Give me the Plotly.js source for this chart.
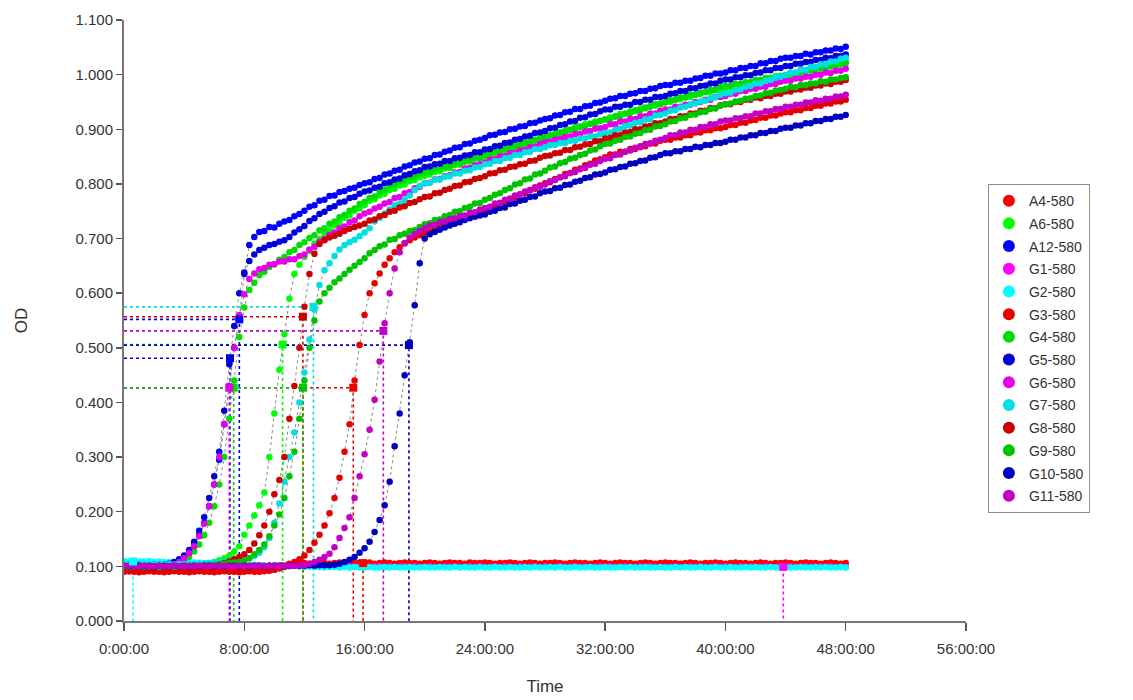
<!DOCTYPE html>
<html><head><meta charset="utf-8">
<script src="https://cdn.plot.ly/plotly-3.0.1.min.js"></script>
<style>html,body{margin:0;padding:0;background:#fff}#chart{width:1133px;height:700px}</style>
</head><body><div id="chart"></div>
<script>
// Sampling times (minutes)
const timeMinutes = [
0,20,40,60,80,100,120,140,160,180,200,220,
240,260,280,300,320,340,360,380,400,420,440,460,
480,500,520,540,560,580,600,620,640,660,680,700,
720,740,760,780,800,820,840,860,880,900,920,940,
960,980,1000,1020,1040,1060,1080,1100,1120,1140,1160,1180,
1200,1220,1240,1260,1280,1300,1320,1340,1360,1380,1400,1420,
1440,1460,1480,1500,1520,1540,1560,1580,1600,1620,1640,1660,
1680,1700,1720,1740,1760,1780,1800,1820,1840,1860,1880,1900,
1920,1940,1960,1980,2000,2020,2040,2060,2080,2100,2120,2140,
2160,2180,2200,2220,2240,2260,2280,2300,2320,2340,2360,2380,
2400,2420,2440,2460,2480,2500,2520,2540,2560,2580,2600,2620,
2640,2660,2680,2700,2720,2740,2760,2780,2800,2820,2840,2860,
2880];

const seriesNames = ['A4-580','A6-580','A12-580','G1-580','G2-580','G3-580','G4-580','G5-580','G6-580','G7-580','G8-580','G9-580','G10-580','G11-580'];

const odA4 = [
.092,.091,.093,.092,.091,.092,.093,.092,.091,.092,.092,.093,
.092,.091,.092,.093,.092,.091,.092,.092,.093,.092,.091,.092,
.092,.093,.092,.091,.092,.093,.094,.096,.099,.102,.104,.105,
.106,.105,.106,.107,.106,.105,.106,.107,.106,.105,.106,.107,
.106,.107,.105,.106,.107,.106,.105,.106,.107,.106,.106,.105,
.106,.107,.106,.105,.106,.107,.106,.106,.105,.107,.106,.106,
.107,.106,.105,.106,.106,.107,.106,.105,.106,.107,.106,.105,
.106,.106,.107,.106,.105,.106,.107,.106,.106,.105,.106,.107,
.106,.105,.106,.107,.106,.106,.105,.106,.107,.106,.105,.106,
.107,.106,.106,.105,.106,.107,.106,.105,.106,.106,.107,.106,
.105,.106,.107,.106,.106,.105,.106,.107,.106,.105,.106,.106,
.107,.106,.105,.106,.107,.106,.106,.105,.106,.107,.106,.105,
.106];

const odA6 = [
.101,.100,.101,.100,.100,.101,.100,.101,.100,.100,.101,.100,
.101,.102,.102,.103,.104,.106,.108,.111,.115,.120,.127,.137,
.158,.175,.193,.212,.235,.300,.380,.460,.525,.590,.635,.652,
.666,.677,.691,.699,.709,.715,.724,.729,.738,.742,.751,.755,
.761,.769,.772,.779,.782,.789,.791,.797,.799,.805,.807,.812,
.815,.817,.822,.823,.828,.829,.834,.835,.840,.841,.846,.847,
.850,.855,.856,.861,.862,.867,.867,.872,.873,.878,.879,.884,
.887,.888,.892,.893,.898,.899,.904,.904,.909,.910,.914,.915,
.918,.922,.923,.928,.928,.933,.933,.938,.938,.943,.943,.947,
.950,.950,.954,.955,.959,.959,.963,.964,.968,.968,.972,.972,
.974,.978,.978,.982,.982,.986,.986,.990,.990,.994,.994,.998,
1.000,.999,1.003,1.003,1.007,1.007,1.011,1.011,1.015,1.015,1.019,1.019,
1.023];

const odA12 = [
.103,.104,.103,.102,.103,.104,.103,.103,.104,.104,.106,.110,
.117,.126,.140,.158,.180,.210,.250,.295,.360,.430,.500,.555,
.635,.688,.703,.712,.714,.721,.720,.727,.731,.734,.741,.745,
.751,.758,.761,.769,.771,.778,.779,.785,.787,.791,.793,.798,
.801,.803,.809,.811,.817,.819,.824,.826,.832,.834,.839,.841,
.846,.847,.853,.854,.859,.861,.866,.867,.873,.874,.879,.881,
.884,.889,.890,.894,.895,.900,.901,.905,.906,.911,.912,.916,
.919,.920,.925,.926,.931,.932,.937,.937,.942,.943,.948,.949,
.952,.956,.957,.961,.961,.965,.966,.970,.970,.974,.975,.979,
.981,.981,.985,.985,.989,.989,.993,.994,.998,.998,1.002,1.002,
1.004,1.008,1.008,1.012,1.012,1.016,1.016,1.021,1.021,1.025,1.025,1.029,
1.031,1.031,1.034,1.034,1.038,1.037,1.041,1.041,1.044,1.044,1.048,1.047,
1.051];

const odG1 = [
.101,.100,.101,.100,.100,.101,.100,.101,.100,.101,.100,.100,
.100,.101,.100,.100,.101,.100,.101,.100,.100,.101,.100,.101,
.100,.100,.101,.100,.101,.100,.100,.101,.100,.100,.101,.100,
.101,.100,.100,.099,.100,.101,.100,.099,.100,.100,.099,.100,
.100,.099,.100,.100,.099,.100,.099,.100,.100,.099,.100,.099,
.099,.100,.099,.099,.100,.099,.100,.099,.099,.100,.099,.100,
.099,.099,.100,.099,.100,.099,.099,.100,.099,.099,.100,.099,
.100,.099,.099,.100,.099,.099,.100,.099,.100,.099,.099,.100,
.099,.100,.099,.099,.100,.099,.099,.100,.099,.100,.099,.099,
.099,.099,.100,.099,.099,.100,.099,.100,.099,.099,.100,.099,
.100,.099,.099,.100,.099,.100,.099,.099,.100,.099,.099,.100,
.099,.100,.099,.099,.100,.099,.099,.100,.099,.100,.099,.099,
.099];

const odG2 = [
.110,.109,.110,.109,.109,.110,.108,.109,.108,.108,.107,.108,
.107,.106,.107,.106,.105,.106,.105,.104,.105,.104,.103,.104,
.103,.102,.103,.102,.102,.101,.102,.101,.101,.100,.101,.100,
.099,.100,.099,.099,.098,.099,.099,.098,.099,.098,.099,.098,
.098,.099,.098,.098,.099,.098,.099,.098,.098,.099,.098,.098,
.099,.098,.098,.099,.098,.098,.099,.098,.099,.098,.098,.099,
.098,.098,.099,.098,.098,.099,.098,.098,.099,.098,.099,.098,
.098,.099,.098,.099,.098,.098,.099,.098,.098,.099,.098,.098,
.099,.098,.098,.099,.098,.099,.098,.098,.099,.098,.098,.099,
.098,.098,.099,.098,.099,.098,.098,.099,.098,.098,.099,.098,
.098,.099,.098,.098,.099,.098,.099,.098,.098,.099,.098,.098,
.099,.098,.098,.099,.098,.098,.099,.098,.099,.098,.098,.099,
.098];

const odG3 = [
.090,.091,.090,.089,.090,.091,.090,.090,.089,.090,.091,.090,
.090,.089,.090,.091,.090,.090,.089,.090,.091,.090,.090,.089,
.090,.091,.090,.090,.091,.092,.094,.097,.101,.105,.108,.113,
.120,.130,.143,.158,.175,.197,.225,.262,.310,.360,.440,.505,
.560,.600,.618,.636,.652,.664,.675,.684,.691,.697,.702,.706,
.711,.713,.718,.720,.725,.727,.732,.734,.739,.741,.746,.748,
.751,.757,.759,.765,.767,.773,.775,.781,.783,.789,.791,.797,
.801,.803,.809,.812,.818,.820,.826,.828,.834,.837,.843,.845,
.849,.854,.854,.859,.859,.864,.864,.869,.869,.874,.874,.879,
.881,.881,.885,.885,.889,.889,.894,.894,.898,.898,.902,.902,
.904,.908,.908,.912,.912,.916,.917,.921,.921,.925,.925,.929,
.931,.931,.935,.935,.939,.939,.943,.943,.947,.947,.951,.951,
.954];

const odG4 = [
.100,.101,.100,.100,.101,.100,.100,.101,.100,.100,.102,.105,
.110,.117,.127,.140,.157,.180,.210,.250,.300,.370,.440,.520,
.574,.606,.619,.633,.639,.648,.653,.661,.666,.675,.679,.688,
.693,.701,.706,.715,.719,.727,.731,.739,.743,.751,.755,.763,
.767,.774,.777,.785,.789,.797,.799,.805,.807,.812,.813,.818,
.821,.822,.826,.827,.832,.832,.837,.838,.842,.843,.848,.848,
.853,.854,.859,.859,.864,.865,.870,.870,.875,.876,.881,.881,
.884,.889,.889,.894,.895,.899,.900,.905,.905,.910,.911,.915,
.918,.919,.924,.924,.929,.930,.935,.935,.940,.941,.946,.946,
.949,.953,.954,.958,.958,.963,.963,.967,.968,.972,.972,.977,
.979,.979,.983,.983,.986,.986,.990,.990,.994,.993,.997,.997,
.999,1.003,1.002,1.006,1.006,1.009,1.009,1.013,1.012,1.016,1.016,1.019,
1.021];

const odG5 = [
.102,.103,.102,.103,.102,.102,.103,.102,.103,.105,.108,.113,
.120,.130,.145,.165,.190,.225,.265,.310,.385,.470,.540,.600,
.638,.659,.671,.679,.683,.688,.690,.694,.697,.703,.711,.717,
.723,.732,.737,.745,.749,.756,.759,.766,.768,.774,.776,.782,
.786,.788,.793,.795,.801,.803,.808,.810,.816,.818,.823,.825,
.831,.832,.836,.837,.842,.842,.847,.848,.852,.853,.858,.858,
.863,.864,.869,.870,.875,.876,.881,.882,.887,.888,.893,.894,
.897,.902,.903,.908,.909,.914,.915,.921,.922,.927,.928,.933,
.936,.936,.941,.941,.945,.945,.950,.950,.954,.954,.959,.959,
.961,.965,.966,.970,.970,.975,.975,.979,.980,.984,.984,.989,
.991,.991,.995,.995,.999,.999,1.003,1.004,1.008,1.008,1.012,1.012,
1.016,1.016,1.020,1.020,1.023,1.023,1.027,1.027,1.031,1.030,1.034,1.034,
1.037];

const odG6 = [
.101,.100,.101,.101,.100,.101,.101,.100,.101,.102,.104,.108,
.115,.124,.137,.155,.178,.210,.250,.300,.360,.430,.500,.560,
.598,.626,.636,.644,.646,.652,.653,.658,.658,.662,.662,.668,
.671,.680,.685,.694,.699,.707,.711,.719,.722,.730,.733,.741,
.746,.749,.755,.758,.764,.767,.774,.776,.783,.785,.792,.795,
.801,.802,.808,.809,.814,.816,.821,.822,.828,.829,.834,.836,
.839,.844,.845,.850,.851,.856,.857,.861,.862,.867,.868,.873,
.876,.877,.881,.882,.886,.887,.891,.892,.896,.897,.901,.902,
.904,.909,.909,.914,.914,.919,.919,.924,.924,.929,.929,.934,
.936,.936,.941,.941,.945,.945,.950,.950,.954,.954,.959,.959,
.961,.965,.965,.970,.970,.974,.974,.978,.978,.983,.983,.987,
.989,.989,.993,.993,.996,.996,1.000,1.000,1.004,1.003,1.007,1.007,
1.011];

const odG7 = [
.104,.103,.104,.103,.104,.103,.103,.104,.103,.104,.103,.104,
.104,.104,.105,.105,.106,.106,.107,.108,.109,.110,.112,.115,
.112,.115,.119,.125,.135,.152,.180,.215,.255,.300,.345,.400,
.455,.515,.570,.615,.642,.655,.668,.680,.688,.693,.698,.704,
.711,.719,.731,.738,.746,.753,.761,.764,.771,.779,.789,.796,
.801,.802,.807,.808,.813,.814,.819,.819,.824,.825,.830,.831,
.836,.837,.842,.842,.847,.848,.853,.853,.858,.859,.864,.864,
.867,.871,.871,.875,.875,.879,.879,.883,.883,.887,.887,.891,
.893,.894,.899,.901,.906,.907,.912,.913,.918,.919,.925,.926,
.929,.934,.935,.940,.941,.946,.947,.951,.952,.957,.958,.963,
.966,.967,.972,.973,.978,.979,.984,.984,.989,.990,.995,.996,
.999,1.004,1.004,1.009,1.009,1.014,1.014,1.019,1.019,1.024,1.024,1.029,
1.031];

const odG8 = [
.098,.097,.098,.098,.097,.098,.097,.098,.098,.097,.098,.098,
.098,.098,.099,.099,.100,.101,.102,.104,.106,.109,.113,.117,
.122,.130,.142,.157,.175,.200,.232,.258,.300,.370,.430,.500,
.575,.635,.672,.690,.697,.702,.705,.709,.714,.718,.721,.724,
.727,.733,.735,.741,.743,.749,.751,.757,.759,.765,.767,.772,
.776,.777,.783,.784,.789,.791,.796,.797,.803,.804,.809,.811,
.814,.819,.820,.825,.826,.831,.832,.836,.837,.842,.843,.848,
.851,.852,.856,.857,.862,.862,.867,.868,.872,.873,.878,.878,
.883,.884,.889,.889,.894,.895,.900,.900,.905,.906,.911,.911,
.914,.919,.919,.924,.924,.929,.929,.934,.934,.939,.939,.944,
.946,.946,.950,.950,.954,.954,.958,.957,.961,.961,.965,.965,
.969,.969,.973,.973,.976,.976,.980,.980,.984,.983,.987,.987,
.990];

const odG9 = [
.100,.099,.100,.100,.099,.100,.100,.099,.100,.100,.099,.100,
.100,.100,.101,.101,.102,.102,.103,.104,.105,.106,.107,.108,
.110,.115,.122,.130,.140,.155,.175,.195,.225,.265,.310,.370,
.440,.500,.550,.585,.600,.610,.620,.627,.635,.643,.650,.657,
.664,.673,.679,.686,.689,.698,.699,.706,.709,.714,.715,.721,
.726,.728,.734,.735,.741,.743,.749,.750,.756,.758,.764,.765,
.771,.774,.780,.783,.789,.792,.799,.801,.808,.810,.817,.819,
.824,.830,.832,.838,.840,.846,.848,.853,.855,.861,.863,.869,
.873,.874,.879,.881,.886,.887,.892,.893,.898,.899,.905,.906,
.909,.914,.915,.920,.921,.926,.927,.931,.932,.937,.938,.943,
.946,.947,.951,.952,.956,.957,.961,.962,.966,.967,.971,.972,
.974,.978,.977,.981,.981,.984,.984,.988,.987,.991,.991,.994,
.995];

const odG10 = [
.101,.100,.101,.101,.100,.101,.100,.101,.101,.100,.101,.100,
.101,.100,.101,.100,.101,.101,.100,.101,.100,.101,.101,.100,
.101,.100,.101,.101,.100,.101,.101,.101,.100,.101,.101,.101,
.101,.102,.101,.102,.102,.102,.103,.105,.108,.112,.117,.125,
.133,.145,.163,.185,.212,.255,.320,.380,.450,.510,.578,.655,
.700,.708,.712,.716,.720,.724,.727,.730,.734,.737,.740,.742,
.744,.749,.751,.756,.757,.763,.764,.769,.771,.776,.777,.783,
.786,.787,.792,.793,.798,.799,.804,.806,.811,.812,.817,.818,
.821,.826,.827,.831,.832,.837,.838,.842,.843,.848,.849,.853,
.856,.856,.860,.860,.864,.864,.868,.867,.871,.871,.875,.875,
.877,.881,.881,.885,.885,.889,.889,.893,.893,.897,.897,.901,
.903,.903,.907,.907,.911,.911,.915,.915,.919,.919,.923,.923,
.926];

const odG11 = [
.100,.101,.100,.100,.101,.100,.100,.101,.100,.100,.101,.100,
.100,.101,.100,.101,.100,.100,.101,.100,.101,.100,.100,.101,
.100,.101,.100,.101,.100,.101,.101,.100,.101,.101,.101,.102,
.102,.105,.108,.112,.117,.123,.135,.152,.170,.190,.225,.265,
.305,.350,.405,.475,.545,.600,.645,.675,.692,.702,.708,.714,
.719,.724,.725,.730,.731,.736,.737,.741,.742,.747,.748,.753,
.756,.758,.764,.765,.771,.773,.779,.780,.786,.788,.794,.795,
.799,.805,.807,.812,.814,.820,.822,.827,.829,.835,.837,.842,
.846,.847,.853,.854,.859,.861,.866,.867,.873,.874,.879,.881,
.884,.889,.889,.894,.894,.899,.899,.904,.904,.909,.909,.914,
.916,.916,.920,.920,.924,.924,.929,.929,.933,.933,.937,.937,
.941,.941,.945,.945,.949,.949,.953,.952,.956,.956,.960,.960,
.963];

// Threshold crossing point of each series (hours, OD)
const thresholdHours = [15.9, 10.55, 7.67, 43.85, 0.6, 15.25, 7.3, 7.05, 7.0, 12.6, 11.9, 11.9, 18.95, 17.25];
const thresholdOD    = [0.106, 0.506, 0.552, 0.099, 0.109, 0.427, 0.427, 0.481, 0.427, 0.575, 0.557, 0.427, 0.505, 0.531];

const xTickHours  = [0, 8, 16, 24, 32, 40, 48, 56];
const xTickLabels = ['0:00:00','8:00:00','16:00:00','24:00:00','32:00:00','40:00:00','48:00:00','56:00:00'];

// styles
const seriesColors = ['#ff0000','#00ff00','#0000ff','#ff00ff','#00ffff','#e80000','#00dd00','#0000dd','#e800e8','#00e0e0','#cc0000','#00c400','#0000c0','#c400c4'];
const FONT = 'Liberation Sans, Arial, sans-serif';

const seriesData = [odA4, odA6, odA12, odG1, odG2, odG3, odG4, odG5, odG6, odG7, odG8, odG9, odG10, odG11];
const hours = timeMinutes.map(m => m / 60);

const traces = [];
seriesNames.forEach((n, i) => {
  traces.push({
    x: [0, thresholdHours[i], thresholdHours[i]],
    y: [thresholdOD[i], thresholdOD[i], 0],
    mode: 'lines', line: {color: seriesColors[i], width: 1.6, dash: 'dot'},
    showlegend: false, hoverinfo: 'skip', legendgroup: n
  });
});
seriesNames.forEach((n, i) => {
  traces.push({
    x: hours, y: seriesData[i], mode: 'lines',
    line: {color: '#8a8a8a', width: 1, dash: 'dot'},
    showlegend: false, hoverinfo: 'skip', legendgroup: n
  });
});
seriesNames.forEach((n, i) => {
  traces.push({
    x: hours, y: seriesData[i], mode: 'markers', name: n, legendgroup: n,
    marker: {color: seriesColors[i], size: 6.5}
  });
});
seriesNames.forEach((n, i) => {
  traces.push({
    x: [thresholdHours[i]], y: [thresholdOD[i]], mode: 'markers',
    marker: {color: seriesColors[i], size: 8, symbol: 'square'},
    showlegend: false, hoverinfo: 'skip', legendgroup: n
  });
});

const layout = {
  width: 1133, height: 700,
  margin: {l: 124, r: 167, t: 20, b: 79},
  paper_bgcolor: '#ffffff', plot_bgcolor: '#ffffff',
  font: {family: FONT, color: '#333333'},
  showlegend: true,
  legend: {
    x: 1.026, y: 0.727, xanchor: 'left', yanchor: 'top',
    bordercolor: '#8c8c8c', borderwidth: 1, bgcolor: '#ffffff',
    font: {family: FONT, size: 14, color: '#333333'},
    traceorder: 'grouped', tracegroupgap: 1.5, itemsizing: 'constant'
  },
  xaxis: {
    range: [0, 56], tickmode: 'array', tickvals: xTickHours, ticktext: xTickLabels,
    showgrid: false, zeroline: false, showline: true, linecolor: '#777777', linewidth: 2,
    ticks: 'outside', ticklen: 8, tickwidth: 1.5, tickcolor: '#555555',
    ticklabelstandoff: 5,
    tickfont: {family: FONT, size: 15, color: '#333333'},
    title: {text: 'Time', font: {family: FONT, size: 17, color: '#333333'}, standoff: 24}
  },
  yaxis: {
    range: [0, 1.1], dtick: 0.1, tick0: 0, tickformat: '.3f',
    showgrid: false, zeroline: false, showline: true, linecolor: '#777777', linewidth: 2,
    ticks: 'outside', ticklen: 6, tickwidth: 1.5, tickcolor: '#555555',
    tickfont: {family: FONT, size: 15, color: '#333333'},
    title: {text: 'OD', font: {family: FONT, size: 17, color: '#333333'}, standoff: 44}
  }
};

Plotly.newPlot('chart', traces, layout, {displayModeBar: false, staticPlot: true});
</script>
</body></html>
